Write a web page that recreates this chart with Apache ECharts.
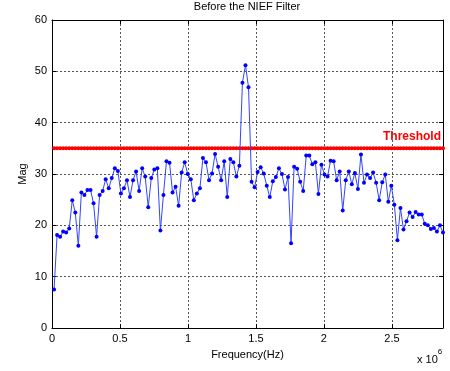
<!DOCTYPE html>
<html>
<head>
<meta charset="utf-8">
<script src="https://cdn.jsdelivr.net/npm/echarts@6/dist/echarts.min.js"></script>
<style>
  html, body { margin: 0; padding: 0; background: #fff; }
  #chart { width: 450px; height: 371px; }
</style>
</head>
<body>
<div id="chart"></div>
<script>
// spectrum samples (129 bins)
const FREQ_START = 15000;
const FREQ_STEP = 22350;
const MAG = [
  7.5, 18.1, 17.8, 18.8, 18.6, 19.4, 24.9, 22.5, 16.0, 26.4,
  25.9, 26.9, 26.9, 24.3, 17.8, 25.9, 26.7, 29.0, 27.2, 29.2,
  31.1, 30.6, 26.2, 27.2, 28.8, 25.5, 28.8, 30.5, 26.7, 31.1,
  29.5, 23.5, 29.2, 30.9,
  31.1, 19.0, 25.9, 32.5, 32.2, 26.4, 27.5, 23.8, 30.3, 32.3,
  30.0, 29.0, 24.9, 26.2, 27.2, 33.1, 32.3, 28.8, 30.1, 33.9,
  31.4, 28.8, 32.5, 25.5, 32.9, 32.3, 29.5, 31.6,
  47.8, 51.2, 46.9,
  28.5, 27.4, 30.4, 31.3, 30.1, 27.7, 25.5, 28.6, 29.4, 31.1,
  30.0, 27.0, 29.4, 16.5, 31.4, 31.0, 28.5, 26.7, 33.6, 33.6,
  31.9, 32.3, 26.1, 31.8, 29.9, 29.5, 32.6, 32.5, 28.8, 30.5,
  22.9, 28.8,
  30.5, 28.0, 30.2, 27.1,
  33.8, 28.3, 29.9, 29.2, 30.3, 28.3, 24.9, 28.4, 29.9, 24.6, 27.7,
  24.0, 17.1, 23.4, 19.2, 20.8, 22.5, 21.6, 22.6, 22.1, 22.1,
  20.3, 20.0, 19.3, 19.5, 18.8, 20.0, 18.6
];
const THRESHOLD = 35;
const X_TICKS = [0, 0.5, 1, 1.5, 2, 2.5]; // x 10^6
const Y_TICKS = [0, 10, 20, 30, 40, 50, 60];

const freq = MAG.map((_, i) => FREQ_START + i * FREQ_STEP);
const xMax = freq[freq.length - 1];

const FONT = 'Liberation Sans, Arial, sans-serif';

const chart = echarts.init(document.getElementById('chart'), null, { renderer: 'canvas' });

const gridLine = { show: true, lineStyle: { color: '#555', type: [2, 2], width: 1 } };
const tick = { show: true, inside: true, length: 4, lineStyle: { color: '#000' } };
const axisLine = { show: true, onZero: false, lineStyle: { color: '#000', width: 1 } };

chart.setOption({
  backgroundColor: '#fff',
  animation: false,
  title: {
    text: 'Before the NIEF Filter',
    left: 247,
    top: 1,
    padding: 0,
    textAlign: 'center',
    textStyle: { fontFamily: FONT, fontSize: 11, fontWeight: 'normal', color: '#000' }
  },
  grid: { left: 52, right: 7, top: 20, bottom: 43 },
  xAxis: [
    {
      type: 'value',
      min: 0,
      max: xMax,
      interval: 500000,
      name: 'Frequency(Hz)',
      nameLocation: 'middle',
      nameGap: 21,
      nameMoveOverlap: false,
      nameTextStyle: { fontFamily: FONT, fontSize: 11, color: '#000' },
      axisLine: axisLine,
      axisTick: tick,
      splitLine: gridLine,
      axisLabel: {
        fontFamily: FONT, fontSize: 11, color: '#000', margin: 5,
        showMaxLabel: false,
        formatter: v => {
          const t = X_TICKS.find(k => Math.abs(k * 1e6 - v) < 1);
          return t === undefined ? '' : String(t);
        }
      }
    },
    {
      type: 'value', position: 'top', min: 0, max: xMax, interval: 500000,
      axisLine: axisLine, axisTick: tick, splitLine: { show: false }, axisLabel: { show: false }
    }
  ],
  yAxis: [
    {
      type: 'value',
      min: Y_TICKS[0],
      max: Y_TICKS[Y_TICKS.length - 1],
      interval: 10,
      name: 'Mag',
      nameLocation: 'middle',
      nameGap: 24,
      nameMoveOverlap: false,
      nameRotate: 90,
      nameTextStyle: { fontFamily: FONT, fontSize: 11, color: '#000' },
      axisLine: axisLine,
      axisTick: tick,
      splitLine: gridLine,
      axisLabel: { fontFamily: FONT, fontSize: 11, color: '#000', margin: 5 }
    },
    {
      type: 'value', position: 'right', min: 0, max: 60, interval: 10,
      axisLine: axisLine, axisTick: tick, splitLine: { show: false }, axisLabel: { show: false }
    }
  ],
  series: [
    {
      name: 'Threshold',
      type: 'line',
      data: freq.map(f => [f, THRESHOLD]),
      symbol: 'circle',
      symbolSize: 4,
      showSymbol: true,
      itemStyle: { color: '#ff0000' },
      lineStyle: { color: '#ff0000', width: 2 },
      z: 2
    },
    {
      name: 'Mag',
      type: 'line',
      data: freq.map((f, i) => [f, MAG[i]]),
      symbol: 'circle',
      symbolSize: 4,
      showSymbol: true,
      itemStyle: { color: '#0000ff' },
      lineStyle: { color: '#3344ff', width: 1 },
      z: 3
    }
  ],
  graphic: [
    {
      type: 'text',
      right: 9,
      top: 131,
      style: {
        text: 'Threshold',
        fill: '#ff0000',
        font: 'bold 12px ' + FONT
      }
    },
    {
      type: 'text',
      left: 417,
      top: 348,
      style: {
        text: '{b|x 10}{s|6}',
        rich: {
          b: { fontFamily: FONT, fontSize: 11, fill: '#000', padding: [6, 0, 0, 0] },
          s: { fontFamily: FONT, fontSize: 8, fill: '#000', verticalAlign: 'top' }
        }
      }
    }
  ]
});
</script>
</body>
</html>
